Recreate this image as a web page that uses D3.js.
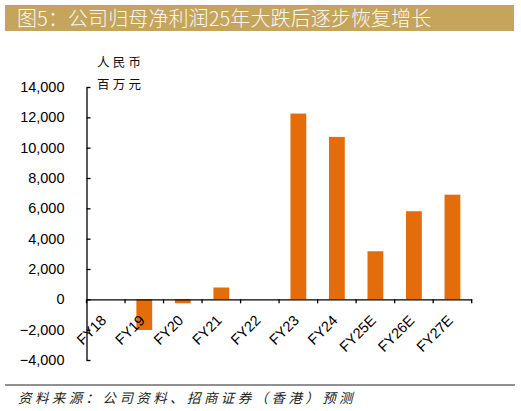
<!DOCTYPE html>
<html><head><meta charset="utf-8">
<script src="https://cdn.jsdelivr.net/npm/d3@7/dist/d3.min.js"></script>
<style>
html,body{margin:0;padding:0;background:#fff;}
svg{display:block;}
</style></head>
<body>
<script>
const categories = ["FY18","FY19","FY20","FY21","FY22","FY23","FY24","FY25E","FY26E","FY27E"];
const profit = [0, -2020, -260, 780, 0, 12250, 10710, 3170, 5810, 6900];
const yTicks = [-4000,-2000,0,2000,4000,6000,8000,10000,12000,14000];
const titleText = "图5：公司归母净利润25年大跌后逐步恢复增长";
const unitLines = ["人民币","百万元"];
const sourceText = "资料来源：公司资料、招商证券（香港）预测";

const W = 521, H = 411;
const svg = d3.select("body").append("svg").attr("width", W).attr("height", H);

// title bar
svg.append("rect").attr("x",5).attr("y",5).attr("width",509).attr("height",26).attr("fill","#C5A55C");
svg.append("text").attr("x",17).attr("y",26).attr("fill","#FBF8F0")
  .style("font-family","'Noto Sans CJK SC', sans-serif").style("font-size","20px").style("font-weight","300")
  .style("letter-spacing","0.1px")
  .text(titleText);

// unit label
unitLines.forEach((t,i)=>{
  svg.append("text").attr("x",97).attr("y",67 + i*21.5).attr("fill","#111")
    .style("font-family","'Noto Sans CJK SC', sans-serif").style("font-size","12.5px")
    .style("letter-spacing","3.2px").text(t);
});

const y = d3.scaleLinear().domain([-4000,14000]).range([360,87]);
const x = d3.scaleBand().domain(categories).range([86.5,471.7]).paddingInner(0.59).paddingOuter(0.295);

// bars
svg.append("g").selectAll("rect").data(profit).join("rect")
  .attr("x",(d,i)=>x(categories[i]))
  .attr("width",x.bandwidth())
  .attr("y",d=>y(Math.max(0,d)))
  .attr("height",d=>Math.abs(y(d)-y(0)))
  .attr("fill","#E46C0A");

// y axis
const yAxis = svg.append("g").attr("transform","translate(86.5,0)")
  .call(d3.axisLeft(y).tickValues(yTicks).tickSize(-4).tickSizeOuter(0).tickPadding(22)
    .tickFormat(d3.format(",")));
yAxis.select(".domain").attr("stroke","#000").attr("stroke-width",1.3);
yAxis.selectAll(".tick line").attr("stroke","#000").attr("stroke-width",1.3);
yAxis.selectAll("text").style("font-family","'Liberation Sans', Arial, sans-serif").style("font-size","14.5px").attr("fill","#000");

// x axis
const y0 = y(0);
const xAxis = svg.append("g").attr("transform",`translate(0,${y0})`)
  .call(d3.axisBottom(x).tickSize(0).tickSizeOuter(0));
xAxis.select(".domain").attr("stroke","#000").attr("stroke-width",1.3);
xAxis.selectAll("text")
  .attr("x",0).attr("y",0).attr("dy",0)
  .attr("transform","translate(1.5,22) rotate(-45)")
  .style("text-anchor","end")
  .style("font-family","'Liberation Sans', Arial, sans-serif").style("font-size","14.5px").attr("fill","#000");
const step = x.step();
const bounds = categories.map(c=>x(c)+x.bandwidth()/2-step/2).concat([x(categories[categories.length-1])+x.bandwidth()/2+step/2]);
xAxis.selectAll(".bt").data(bounds).join("line").attr("class","bt")
  .attr("x1",d=>d).attr("x2",d=>d).attr("y1",0).attr("y2",4)
  .attr("stroke","#000").attr("stroke-width",1.3);

// footer
svg.append("line").attr("x1",5).attr("x2",515).attr("y1",385).attr("y2",385).attr("stroke","#222").attr("stroke-width",1);
svg.append("text").attr("x",18).attr("y",403).attr("fill","#222")
  .style("font-family","'Noto Sans CJK SC', sans-serif").style("font-size","13.5px").style("font-style","italic")
  .style("letter-spacing","3.4px").text(sourceText);
</script>
</body></html>
